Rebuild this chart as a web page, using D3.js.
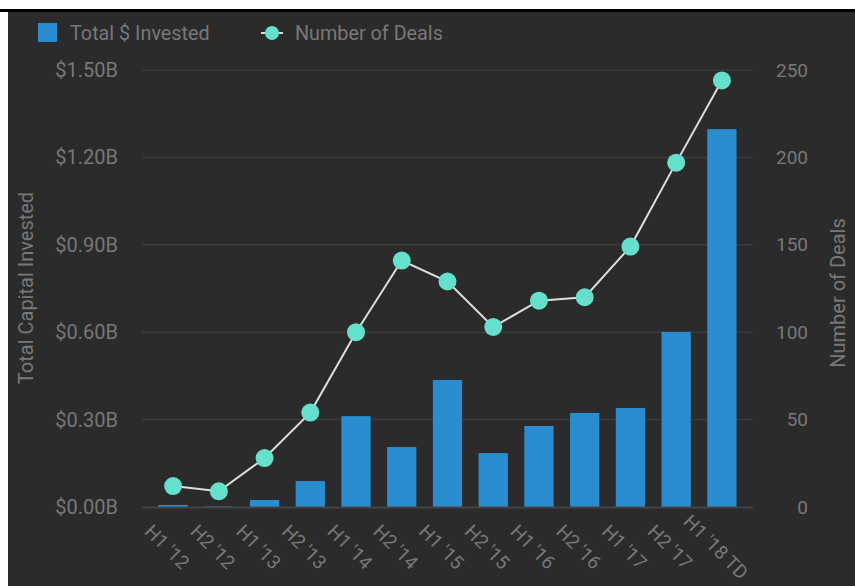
<!DOCTYPE html>
<html>
<head>
<meta charset="utf-8">
<script src="https://cdn.jsdelivr.net/npm/d3@7"></script>
<style>
  html, body { margin: 0; background: #2b2b2b; overflow: hidden; }
  svg { display: block; font-family: Roboto, "Noto Sans", sans-serif; }
</style>
</head>
<body>
<svg class="chart"></svg>
<script>
var periods  = ["H1 '12", "H2 '12", "H1 '13", "H2 '13", "H1 '14", "H2 '14", "H1 '15",
                "H2 '15", "H1 '16", "H2 '16", "H1 '17", "H2 '17", "H1 '18 TD"];
var invested = [0.007, 0.002, 0.024, 0.089, 0.312, 0.206, 0.436,
                0.185, 0.278, 0.323, 0.340, 0.601, 1.297];   // $B
var deals    = [12, 9, 28, 54, 100, 141, 129, 103, 118, 120, 149, 197, 244];
var leftTicks  = [0, 0.3, 0.6, 0.9, 1.2, 1.5];
var rightTicks = [0, 50, 100, 150, 200, 250];

var width = 855, height = 586;
var bg = '#2b2b2b', grey = '#787878', blue = '#2a8dd0', teal = '#64e0cc';

var svg = d3.select('.chart').attr('width', width).attr('height', height);

// frame: white band on top and left, black rule, dark panel
svg.append('rect').attr('x', 0).attr('y', 0).attr('width', width).attr('height', height).attr('fill', '#fff');
svg.append('rect').attr('x', 8).attr('y', 12).attr('width', width - 8).attr('height', height - 12).attr('fill', bg);
svg.append('rect').attr('x', 0).attr('y', 9).attr('width', width).attr('height', 3).attr('fill', '#000');

var x = d3.scaleBand().domain(periods).range([142, 753]).padding(0.36);
var yL = d3.scaleLinear().domain([0, 1.5]).range([507, 70]);
var yR = d3.scaleLinear().domain([0, 250]).range([507, 70]);

// grid
svg.append('g').selectAll('line').data(leftTicks.slice(1)).enter().append('line')
    .attr('x1', 142).attr('x2', 753)
    .attr('y1', function(d) { return yL(d); })
    .attr('y2', function(d) { return yL(d); })
    .attr('stroke', '#3b3b3b').attr('stroke-width', 1.5);

// left axis
var axL = svg.append('g').attr('transform', 'translate(118,0)')
    .call(d3.axisLeft(yL).tickValues(leftTicks).tickSize(0).tickPadding(0)
          .tickFormat(function(d) { return '$' + d3.format('.2f')(d) + 'B'; }));
axL.select('.domain').remove();
axL.selectAll('text').attr('fill', grey).style('font-size', '20px').style('font-family', 'Roboto');

// right axis
var axR = svg.append('g').attr('transform', 'translate(808,0)')
    .call(d3.axisLeft(yR).tickValues(rightTicks).tickSize(0).tickPadding(0));
axR.select('.domain').remove();
axR.selectAll('text').attr('fill', grey).style('font-size', '19px').style('font-family', 'Roboto');

// bars
svg.append('g').selectAll('rect').data(invested).enter().append('rect')
    .attr('x', function(d, i) { return x(periods[i]); })
    .attr('width', x.bandwidth())
    .attr('y', function(d) { return yL(d); })
    .attr('height', function(d) { return yL(0) - yL(d); })
    .attr('fill', blue);

// baseline
svg.append('line').attr('x1', 142).attr('x2', 753).attr('y1', 507.5).attr('y2', 507.5)
    .attr('stroke', '#444').attr('stroke-width', 2);

// x labels
svg.append('g').selectAll('text').data(periods).enter().append('text')
    .attr('transform', function(d) {
        return 'translate(' + (x(d) + x.bandwidth() / 2 - 6) + ',547) rotate(45)';
    })
    .attr('text-anchor', 'middle').attr('dy', '0.35em')
    .attr('fill', grey).style('font-size', '19px')
    .text(function(d) { return d; });

// deals line
var line = d3.line()
    .x(function(d, i) { return x(periods[i]) + x.bandwidth() / 2; })
    .y(function(d) { return yR(d); });
svg.append('path').datum(deals).attr('d', line)
    .attr('fill', 'none').attr('stroke', '#ddd').attr('stroke-width', 2);
svg.append('g').selectAll('circle').data(deals).enter().append('circle')
    .attr('cx', function(d, i) { return x(periods[i]) + x.bandwidth() / 2; })
    .attr('cy', function(d) { return yR(d); })
    .attr('r', 9).attr('fill', teal);

// axis titles
svg.append('text').attr('transform', 'translate(33,288) rotate(-90)')
    .attr('text-anchor', 'middle').attr('fill', grey).style('font-size', '20px')
    .text('Total Capital Invested');
svg.append('text').attr('transform', 'translate(845,293) rotate(-90)')
    .attr('text-anchor', 'middle').attr('fill', grey).style('font-size', '20px')
    .text('Number of Deals');

// legend
var lg = svg.append('g');
lg.append('rect').attr('x', 38).attr('y', 23).attr('width', 19).attr('height', 19).attr('fill', blue);
lg.append('text').attr('x', 70).attr('y', 33).attr('dy', '0.35em').attr('fill', grey)
    .style('font-size', '19.8px').text('Total $ Invested');
lg.append('line').attr('x1', 261).attr('x2', 283).attr('y1', 33).attr('y2', 33)
    .attr('stroke', '#ddd').attr('stroke-width', 2);
lg.append('circle').attr('cx', 272).attr('cy', 33).attr('r', 7).attr('fill', teal);
lg.append('text').attr('x', 295).attr('y', 33).attr('dy', '0.35em').attr('fill', grey)
    .style('font-size', '19.8px').text('Number of Deals');
</script>
</body>
</html>
